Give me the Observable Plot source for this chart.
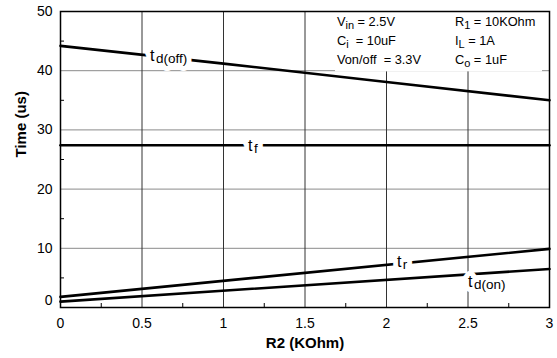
<!DOCTYPE html>
<html><head><meta charset="utf-8">
<script src="https://cdn.jsdelivr.net/npm/d3@7"></script>
<script src="https://cdn.jsdelivr.net/npm/@observablehq/plot@0.6"></script>
<style>body{margin:0;background:#fff} svg{display:block}</style>
</head><body><div id="chart"></div>
<script>
// ---- data ----
const r2Points = [0, 1, 2, 3];            // R2 (KOhm)
const tdOff = [44.2, 41.2, 38.1, 35.0];   // t d(off) (us)
const r2Ends = [0, 3];
const tF = [27.4, 27.4];                  // t f (us)
const tR = [1.8, 9.9];                    // t r (us)
const tdOn = [1.0, 6.5];                  // t d(on) (us)
const xTicks = [0, 0.5, 1, 1.5, 2, 2.5, 3];
const yTicks = [10, 20, 30, 40, 50];
const xMinor = [0.25, 0.75, 1.25, 1.75, 2.25, 2.75];
const yMinor = [5, 15, 25, 35, 45];
const xGrid = [0.5, 1, 1.5, 2, 2.5];
const yGrid = [10, 20, 30, 40];
// curve labels: [main, subscript], anchored in data units
const curveLabels = [
  {parts: ["t", "d(off)"], x: 0.552, y: 41.55},
  {parts: ["t", "f"], x: 1.153, y: 26.35},
  {parts: ["t", "r"], x: 2.067, y: 6.76},
  {parts: ["t", "d(on)"], x: 2.503, y: 3.38}
];
// test conditions (text, subscript, text ...)
const conditions = [
  {parts: ["V", "in", " = 2.5V"], x: 1.699, y: 47.4},
  {parts: ["C", "i", "  = 10uF"], x: 1.699, y: 44.2},
  {parts: ["Von/off  = 3.3V"], x: 1.699, y: 41.05},
  {parts: ["R", "1", " = 10KOhm"], x: 2.423, y: 47.4},
  {parts: ["I", "L", " = 1A"], x: 2.423, y: 44.2},
  {parts: ["C", "o", " = 1uF"], x: 2.423, y: 41.05}
];
const conditionBox = {x1: 1.687, x2: 2.957, y1: 39.8, y2: 50};

const FONT = '"Liberation Sans", Arial, Helvetica, sans-serif';

const rows = [
  ...r2Points.map((x, i) => ({s: "tdoff", x, y: tdOff[i]})),
  ...r2Ends.map((x, i) => ({s: "tf", x, y: tF[i]})),
  ...r2Ends.map((x, i) => ({s: "tr", x, y: tR[i]})),
  ...r2Ends.map((x, i) => ({s: "tdon", x, y: tdOn[i]}))
];

function richText(items, {size, subSize, shift, gap, halo}) {
  return (index, scales) => {
    const g = d3.create("svg:g").attr("font-family", FONT)
      .attr("text-anchor", "start").style("white-space", "pre");
    const passes = halo ? ["halo", "fill"] : ["fill"];
    for (const pass of passes) {
      for (const it of items) {
        const t = g.append("text")
          .attr("x", scales.x(it.x)).attr("y", scales.y(it.y))
          .attr("font-size", size)
          .attr("xml:space", "preserve");
        if (pass === "halo") t.attr("fill", "white").attr("stroke", "white").attr("stroke-width", halo)
          .attr("stroke-linejoin", "round");
        else t.attr("fill", "black");
        it.parts.forEach((p, i) => {
          const s = t.append("tspan").text(p);
          if (i % 2 === 1) s.attr("font-size", subSize).attr("dy", shift).attr("dx", gap);
          else if (i > 0) s.attr("dy", -shift);
        });
      }
    }
    return g.node();
  };
}

const plot = Plot.plot({
  width: 557, height: 358,
  marginLeft: 60, marginRight: 8, marginTop: 11, marginBottom: 51,
  style: {fontFamily: FONT, fontSize: "14px", color: "black", background: "white"},
  x: {domain: [0, 3]},
  y: {domain: [0, 50]},
  marks: [
    Plot.ruleY(yGrid, {stroke: "#8a8a8a", strokeWidth: 1}),
    Plot.ruleX(xGrid, {stroke: "#333", strokeWidth: 1}),
    Plot.axisX(xMinor, {tickSize: -4, tickFormat: () => "", stroke: "black"}),
    Plot.axisY(yMinor, {tickSize: -4, tickFormat: () => "", stroke: "black"}),
    Plot.axisX({ticks: xTicks, tickSize: 0, tickPadding: 11, tickFormat: d => String(d), label: null, fontSize: 14}),
    Plot.axisY({ticks: yTicks, tickSize: 0, tickPadding: 8, label: null, fontSize: 14}),
    Plot.axisY({ticks: [0], tickSize: 0, tickPadding: 8, label: null, fontSize: 14, dy: -7}),
    Plot.line(rows, {x: "x", y: "y", z: "s", stroke: "black", strokeWidth: 2.6}),
    richText(curveLabels, {size: 16, subSize: 13.5, shift: 2, gap: 1.5, halo: 10}),
    Plot.rect([conditionBox], {x1: "x1", x2: "x2", y1: "y1", y2: "y2", fill: "white"}),
    richText(conditions, {size: 12.8, subSize: 11, shift: 3, gap: 0, halo: 0}),
    Plot.text(["Time (us)"], {frameAnchor: "left", rotate: -90, dx: -39, dy: -2, fontWeight: "bold", fontSize: 15}),
    Plot.text(["R2 (KOhm)"], {frameAnchor: "bottom", dy: 40, fontWeight: "bold", fontSize: 15}),
    Plot.frame({stroke: "black", strokeWidth: 1.5})
  ]
});
document.getElementById("chart").append(plot);
</script>
</body></html>
